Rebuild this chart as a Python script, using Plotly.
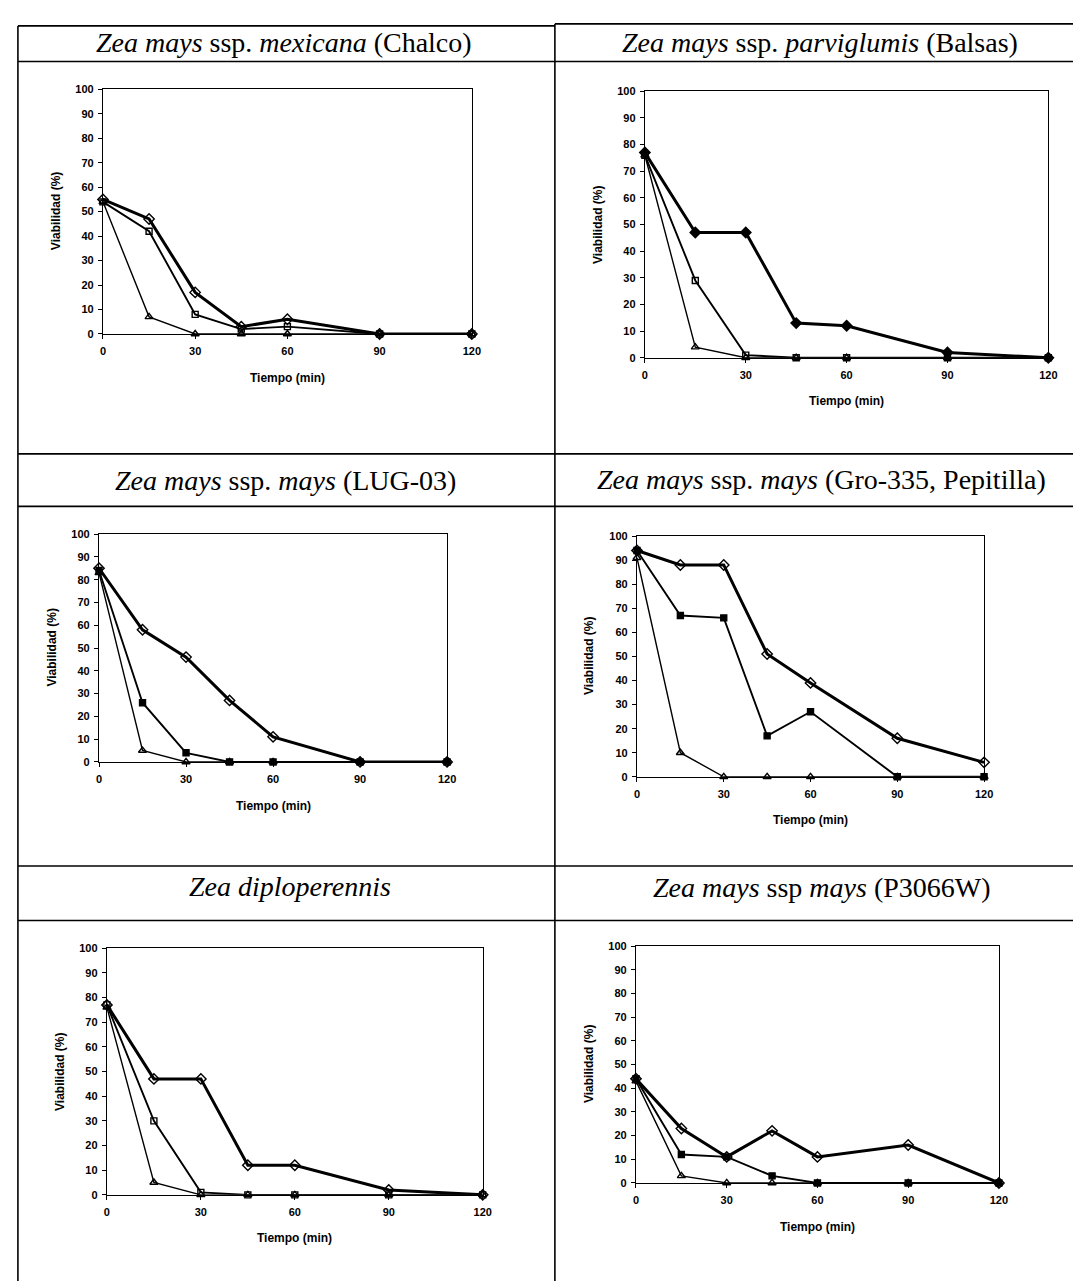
import plotly.graph_objects as go

W, H = 1081, 1281

# ---------------- data ----------------
tiempo = [0, 15, 30, 45, 60, 90, 120]
x_ticks = [0, 30, 60, 90, 120]
y_ticks = [0, 10, 20, 30, 40, 50, 60, 70, 80, 90, 100]

titulos = [
    "<i>Zea mays</i> ssp. <i>mexicana</i> (Chalco)",
    "<i>Zea mays</i> ssp. <i>parviglumis</i> (Balsas)",
    "<i>Zea mays</i> ssp. <i>mays</i> (LUG-03)",
    "<i>Zea mays</i> ssp. <i>mays</i> (Gro-335, Pepitilla)",
    "<i>Zea diploperennis</i>",
    "<i>Zea mays</i> ssp <i>mays</i> (P3066W)",
]

chalco_rombo = [55, 47, 17, 3, 6, 0, 0]
chalco_cuadro = [54, 42, 8, 2, 3, 0, 0]
chalco_triang = [54, 7, 0, 0, 0, 0, 0]

balsas_rombo = [77, 47, 47, 13, 12, 2, 0]
balsas_cuadro = [76, 29, 1, 0, 0, 0, 0]
balsas_triang = [76, 4, 0, 0, 0, 0, 0]

lug_rombo = [85, 58, 46, 27, 11, 0, 0]
lug_cuadro = [84, 26, 4, 0, 0, 0, 0]
lug_triang = [83, 5, 0, 0, 0, 0, 0]

gro_rombo = [94, 88, 88, 51, 39, 16, 6]
gro_cuadro = [94, 67, 66, 17, 27, 0, 0]
gro_triang = [91, 10, 0, 0, 0, 0, 0]

diplo_rombo = [77, 47, 47, 12, 12, 2, 0]
diplo_cuadro = [77, 30, 1, 0, 0, 0, 0]
diplo_triang = [76, 5, 0, 0, 0, 0, 0]

p3066_rombo = [44, 23, 11, 22, 11, 16, 0]
p3066_cuadro = [44, 12, 11, 3, 0, 0, 0]
p3066_triang = [43, 3, 0, 0, 0, 0, 0]

series = [
    (chalco_rombo, chalco_cuadro, chalco_triang),
    (balsas_rombo, balsas_cuadro, balsas_triang),
    (lug_rombo, lug_cuadro, lug_triang),
    (gro_rombo, gro_cuadro, gro_triang),
    (diplo_rombo, diplo_cuadro, diplo_triang),
    (p3066_rombo, p3066_cuadro, p3066_triang),
]

# ---------------- layout (pixels) ----------------
# plot boxes: left, right, top (y=100), bottom (y=0)
boxes = [
    (93, 466, 76, 323),
    (641, 1049, 78, 347),
    (89, 441, 525, 755),
    (633, 984, 527, 770),
    (97, 477, 943, 1192),
    (632, 999, 941, 1180),
]
title_pos = [(276, 29), (818, 29), (278, 471), (820, 470), (282, 881), (820, 882)]

filled = [
    (False, False, False),
    (True, False, False),
    (False, True, False),
    (False, True, False),
    (False, False, False),
    (False, True, False),
]

def px(x):
    return x / W

def py(y):
    return 1 - y / H

fig = go.Figure()
annotations = []
shapes = []

sans = "Liberation Sans, Arial"

for i, (box, ser) in enumerate(zip(boxes, series)):
    L, R, T, B = box
    n = i + 1
    xa = "x" if n == 1 else f"x{n}"
    ya = "y" if n == 1 else f"y{n}"
    rombo, cuadro, triang = ser
    fd, fc, ft = filled[i]
    specs = [
        (triang, "triangle-up", ft, 1.4, 7),
        (cuadro, "square", fc, 1.9, 6),
        (rombo, "diamond", fd, 3.0, 8),
    ]
    for vals, sym, fil, lw, ms in specs:
        fig.add_trace(go.Scatter(
            x=tiempo, y=vals, xaxis=xa, yaxis=ya, mode="lines+markers",
            line=dict(color="black", width=lw),
            marker=dict(symbol=sym if fil else sym + "-open", size=ms,
                        color="black", line=dict(color="black", width=1.4)),
            cliponaxis=False, showlegend=False, hoverinfo="skip"))

    axcommon = dict(showline=True, linecolor="black", linewidth=1.2, mirror=True,
                    showgrid=False, zeroline=False, ticks="outside", ticklen=4,
                    tickwidth=1.2, tickcolor="black",
                    tickfont=dict(family=sans, size=11, color="black", weight="bold"))
    xkey = "xaxis" if n == 1 else f"xaxis{n}"
    ykey = "yaxis" if n == 1 else f"yaxis{n}"
    fig.layout[xkey] = dict(domain=[px(L), px(R)], range=[0, 120],
                            tickvals=x_ticks, anchor=ya, ticklabelstandoff=3, **axcommon)
    fig.layout[ykey] = dict(domain=[py(B), py(T)], range=[0, 100],
                            tickvals=y_ticks, anchor=xa, ticklabelstandoff=2, **axcommon)

    # axis titles
    annotations.append(dict(
        x=px((L + R) / 2), y=py(B + 44), xref="paper", yref="paper",
        text="Tiempo (min)", showarrow=False, xanchor="center", yanchor="middle",
        font=dict(family=sans, size=12, color="black", weight="bold")))
    annotations.append(dict(
        x=px(L - 48), y=py((T + B) / 2), xref="paper", yref="paper",
        text="Viabilidad (%)", showarrow=False, textangle=-90,
        xanchor="center", yanchor="middle",
        font=dict(family=sans, size=12, color="black", weight="bold")))
    # panel title
    tx, ty = title_pos[i]
    annotations.append(dict(
        x=px(tx), y=py(ty), xref="paper", yref="paper", text=titulos[i],
        showarrow=False, xanchor="center", yanchor="middle",
        font=dict(family="Liberation Serif, Times New Roman", size=28, color="black")))

# table lines
def hline(y, x0, x1, w=1.6):
    shapes.append(dict(type="line", xref="paper", yref="paper",
                       x0=px(x0), x1=px(x1), y0=py(y), y1=py(y),
                       line=dict(color="black", width=w)))

def vline(x, y0, y1, w=1.6):
    shapes.append(dict(type="line", xref="paper", yref="paper",
                       x0=px(x), x1=px(x), y0=py(y0), y1=py(y1),
                       line=dict(color="black", width=w)))

hline(12, 7, 550)
hline(10, 550, 1081)
hline(48, 7, 1081)
hline(444, 7, 1081)
hline(497, 7, 1081)
hline(860, 7, 1081)
hline(915, 7, 1081)
vline(7, 12, 1281)
vline(550, 10, 1281)

fig.update_layout(
    width=W, height=H, autosize=False,
    margin=dict(l=0, r=0, t=0, b=0),
    paper_bgcolor="white", plot_bgcolor="white",
    annotations=annotations, shapes=shapes,
    showlegend=False,
)

fig.write_html("out.html")
